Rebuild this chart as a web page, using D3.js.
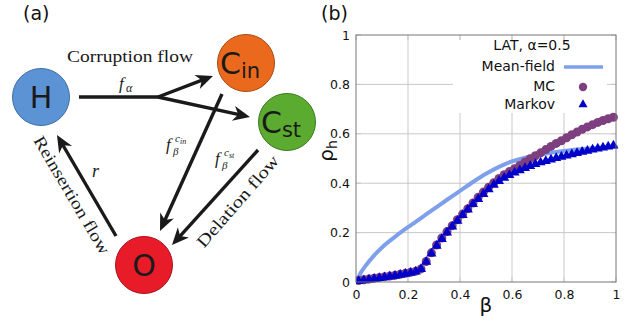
<!DOCTYPE html>
<html>
<head>
<meta charset="utf-8">
<script src="https://cdn.jsdelivr.net/npm/d3@7"></script>
<style>
  body { margin: 0; background: #fff; }
  svg { display: block; }
</style>
</head>
<body>
<svg id="fig" width="640" height="324"></svg>
<script>
// ---- panel (b) data ----
const betaMF = [0.01, 0.02, 0.04, 0.07, 0.1, 0.15, 0.2, 0.25, 0.3, 0.35, 0.4, 0.45, 0.5, 0.55, 0.6, 0.65, 0.7, 0.75, 0.8, 0.85, 0.9, 0.95, 1.0];
const rhoMF = [0.02, 0.04, 0.07, 0.108, 0.14, 0.183, 0.222, 0.259, 0.296, 0.333, 0.369, 0.405, 0.438, 0.466, 0.488, 0.503, 0.514, 0.523, 0.53, 0.536, 0.541, 0.545, 0.548];

const betaPts = [0.01, 0.03, 0.05, 0.07, 0.09, 0.11, 0.13, 0.15, 0.17, 0.19,
  0.21, 0.23, 0.25, 0.27, 0.29, 0.31, 0.33, 0.35, 0.37, 0.39,
  0.41, 0.43, 0.45, 0.47, 0.49, 0.51, 0.53, 0.55, 0.57, 0.59,
  0.61, 0.63, 0.65, 0.67, 0.69, 0.71, 0.73, 0.75, 0.77, 0.79,
  0.81, 0.83, 0.85, 0.87, 0.89, 0.91, 0.93, 0.95, 0.97, 0.99];
const rhoMC = [0.006, 0.009, 0.012, 0.015, 0.018, 0.021, 0.024, 0.027, 0.031, 0.035,
  0.039, 0.044, 0.053, 0.083, 0.118, 0.150, 0.178, 0.204, 0.228, 0.252,
  0.275, 0.297, 0.320, 0.343, 0.364, 0.384, 0.402, 0.419, 0.434, 0.447,
  0.459, 0.472, 0.486, 0.499, 0.511, 0.523, 0.536, 0.549, 0.561, 0.572,
  0.584, 0.596, 0.607, 0.618, 0.628, 0.637, 0.646, 0.654, 0.661, 0.667];
const rhoMarkov = [0.004, 0.007, 0.010, 0.013, 0.016, 0.019, 0.022, 0.025, 0.029, 0.033,
  0.037, 0.042, 0.052, 0.082, 0.115, 0.146, 0.174, 0.200, 0.224, 0.248,
  0.271, 0.293, 0.315, 0.336, 0.356, 0.375, 0.393, 0.409, 0.422, 0.433,
  0.443, 0.452, 0.461, 0.469, 0.477, 0.484, 0.490, 0.496, 0.502, 0.507,
  0.512, 0.517, 0.522, 0.527, 0.531, 0.536, 0.540, 0.544, 0.548, 0.552];

const tickVals = [0, 0.2, 0.4, 0.6, 0.8, 1];
const legendLabels = ["Mean-field", "MC", "Markov"];

// ---- panel (a) data ----
const nodeNames = [
  { id: "H", main: "H", sub: "" },
  { id: "Cin", main: "C", sub: "in" },
  { id: "Cst", main: "C", sub: "st" },
  { id: "O", main: "O", sub: "" }
];
const flowLabels = ["Corruption flow", "Reinsertion flow", "Delation flow"];

const svg = d3.select("#fig");

// ================= panel (a) =================
const layout = {
  H:   { x: 41,  y: 97,  fill: "#5b93d5", stroke: "#3f6ea8" },
  Cin: { x: 246, y: 63,  fill: "#ea691d", stroke: "#a64b12" },
  Cst: { x: 287, y: 122, fill: "#5aab2f", stroke: "#3d7a1f" },
  O:   { x: 144, y: 265, fill: "#e81b29", stroke: "#ad111c" }
};
const R = 28.5;

const pa = svg.append("g").attr("id", "panelA");

pa.append("text").attr("x", 23).attr("y", 20)
  .attr("font-family", "DejaVu Sans").attr("font-size", 19).attr("fill", "#111")
  .text("(a)");

// arrows: [x1,y1,x2,y2,head]
const arrows = [
  [79, 97, 158, 97, false],
  [158, 97, 213, 76, true],
  [158, 97, 250, 117, true],
  [222, 94, 160, 231, true],
  [258, 150, 172, 245, true],
  [116, 236, 57, 135, true]
];

const arrowG = pa.append("g");
arrows.forEach(a => {
  let [x1, y1, x2, y2, head] = a;
  let ang = Math.atan2(y2 - y1, x2 - x1);
  let back = head ? 11 : 0;
  arrowG.append("line")
    .attr("x1", x1).attr("y1", y1)
    .attr("x2", x2 - back * Math.cos(ang)).attr("y2", y2 - back * Math.sin(ang))
    .attr("stroke", "#1a1a1a").attr("stroke-width", 3.4);
  if (head) {
    arrowG.append("path")
      .attr("d", "M0,0 L-17,-7.5 L-12,0 L-17,7.5 Z")
      .attr("fill", "#1a1a1a")
      .attr("transform", `translate(${x2},${y2}) rotate(${ang * 180 / Math.PI})`);
  }
});

const nodeG = pa.selectAll("g.node").data(nodeNames).enter().append("g")
  .attr("class", "node")
  .attr("transform", d => `translate(${layout[d.id].x},${layout[d.id].y})`);
nodeG.append("circle").attr("r", R)
  .attr("fill", d => layout[d.id].fill)
  .attr("stroke", d => layout[d.id].stroke).attr("stroke-width", 1);
nodeG.append("text")
  .attr("x", d => d.sub ? -6 : 0).attr("y", 11)
  .attr("text-anchor", "middle")
  .attr("font-family", "DejaVu Sans").attr("font-size", 30).attr("fill", "#1a1a1a")
  .text(d => d.main)
  .append("tspan").attr("font-size", 21).attr("dy", 4)
  .text(d => d.sub);

const serif = "Liberation Serif";
pa.append("text").attr("x", 130).attr("y", 62)
  .attr("text-anchor", "middle").attr("font-family", serif).attr("font-size", 17)
  .attr("textLength", 126).attr("lengthAdjust", "spacingAndGlyphs")
  .attr("fill", "#1a1a1a").text(flowLabels[0]);

pa.append("text").attr("transform", "translate(67,198) rotate(59.5)")
  .attr("text-anchor", "middle").attr("font-family", serif).attr("font-size", 17)
  .attr("textLength", 134).attr("lengthAdjust", "spacingAndGlyphs")
  .attr("fill", "#1a1a1a").text(flowLabels[1]);

pa.append("text").attr("transform", "translate(242,205) rotate(-49)")
  .attr("text-anchor", "middle").attr("font-family", serif).attr("font-size", 17)
  .attr("textLength", 116).attr("lengthAdjust", "spacingAndGlyphs")
  .attr("fill", "#1a1a1a").text(flowLabels[2]);

// math labels
function mathText(x, y, size, str, italic) {
  return pa.append("text").attr("x", x).attr("y", y)
    .attr("font-family", serif).attr("font-size", size)
    .attr("font-style", italic ? "italic" : "normal")
    .attr("fill", "#1a1a1a").text(str);
}
mathText(119, 89, 17, "f", true);
mathText(126, 92, 12, "α", true);

mathText(166, 150, 17, "f", true);
mathText(173, 155, 11, "β", true);
mathText(175, 142, 11, "c", true);
mathText(180, 144, 8, "in", true);

mathText(215, 164, 17, "f", true);
mathText(222, 169, 11, "β", true);
mathText(224, 156, 11, "c", true);
mathText(229, 158, 8, "st", true);

mathText(92, 177, 18, "r", true);

// ================= panel (b) =================
const m = { left: 356, right: 616, top: 35, bottom: 282 };
const x = d3.scaleLinear().domain([0, 1]).range([m.left, m.right]);
const y = d3.scaleLinear().domain([0, 1]).range([m.bottom, m.top]);

const pb = svg.append("g").attr("id", "panelB");

pb.append("text").attr("x", 321).attr("y", 20)
  .attr("font-family", "DejaVu Sans").attr("font-size", 19).attr("fill", "#111")
  .text("(b)");

const gridColor = "#c9c9c9";
// grid
pb.append("g").selectAll("line").data(tickVals.slice(1, -1)).enter().append("line")
  .attr("x1", d => x(d)).attr("x2", d => x(d))
  .attr("y1", m.top).attr("y2", m.bottom)
  .attr("stroke", gridColor).attr("stroke-width", 1);
pb.append("g").selectAll("line").data(tickVals.slice(1, -1)).enter().append("line")
  .attr("y1", d => y(d)).attr("y2", d => y(d))
  .attr("x1", m.left).attr("x2", m.right)
  .attr("stroke", gridColor).attr("stroke-width", 1);

// legend background
pb.append("rect").attr("x", 453).attr("y", 40).attr("width", 154).attr("height", 73)
  .attr("fill", "#fff");

// mirrored tick marks (inward)
const tickLen = 5;
const tk = pb.append("g").attr("stroke", gridColor).attr("stroke-width", 1);
tickVals.forEach(v => {
  tk.append("line").attr("x1", x(v)).attr("x2", x(v)).attr("y1", m.top).attr("y2", m.top + tickLen);
  tk.append("line").attr("x1", x(v)).attr("x2", x(v)).attr("y1", m.bottom).attr("y2", m.bottom - tickLen);
  tk.append("line").attr("y1", y(v)).attr("y2", y(v)).attr("x1", m.left).attr("x2", m.left + tickLen);
  tk.append("line").attr("y1", y(v)).attr("y2", y(v)).attr("x1", m.right).attr("x2", m.right - tickLen);
});

// axes (labels only)
const fmt = d3.format("~g");
const xAxis = pb.append("g").attr("transform", `translate(0,${m.bottom})`)
  .call(d3.axisBottom(x).tickValues(tickVals).tickFormat(fmt).tickSize(0).tickPadding(5));
const yAxis = pb.append("g").attr("transform", `translate(${m.left},0)`)
  .call(d3.axisLeft(y).tickValues(tickVals).tickFormat(fmt).tickSize(0).tickPadding(6));
[xAxis, yAxis].forEach(g => {
  g.select(".domain").remove();
  g.selectAll("text").attr("font-family", "DejaVu Sans").attr("font-size", 12.5).attr("fill", "#111");
});
xAxis.selectAll("text").attr("dy", "0.95em");

// axis titles
pb.append("text").attr("x", 486).attr("y", 312).attr("text-anchor", "middle")
  .attr("font-family", "DejaVu Sans").attr("font-size", 20).attr("fill", "#111").text("β");
const yl = pb.append("text").attr("transform", "translate(333,151) rotate(-90)")
  .attr("text-anchor", "middle")
  .attr("font-family", "DejaVu Sans").attr("font-size", 20).attr("fill", "#111");
yl.append("tspan").text("ρ");
yl.append("tspan").attr("font-size", 14).attr("dy", 4).text("h");

// data
const clip = pb.append("clipPath").attr("id", "plotclip").append("rect")
  .attr("x", m.left).attr("y", m.top - 5).attr("width", m.right - m.left + 5).attr("height", m.bottom - m.top + 10);

const mfColor = "#7ea0ec", mcColor = "#7d3f80", mkColor = "#0000c8";
const mfData = betaMF.map((b, i) => [b, rhoMF[i]]);
pb.append("path").datum(mfData)
  .attr("d", d3.line().x(d => x(d[0])).y(d => y(d[1])).curve(d3.curveMonotoneX))
  .attr("fill", "none").attr("stroke", mfColor).attr("stroke-width", 4)
  .attr("stroke-linecap", "round");

pb.append("g").attr("clip-path", "url(#plotclip)")
  .selectAll("circle").data(betaPts).enter().append("circle")
  .attr("cx", d => x(d)).attr("cy", (d, i) => y(rhoMC[i])).attr("r", 4.5)
  .attr("fill", mcColor);

const tri = d3.symbol().type(d3.symbolTriangle).size(44);
pb.append("g").attr("clip-path", "url(#plotclip)")
  .selectAll("path").data(betaPts).enter().append("path")
  .attr("d", tri)
  .attr("transform", (d, i) => `translate(${x(d)},${y(rhoMarkov[i])})`)
  .attr("fill", mkColor);

// frame
pb.append("rect").attr("x", m.left).attr("y", m.top)
  .attr("width", m.right - m.left).attr("height", m.bottom - m.top)
  .attr("fill", "none").attr("stroke", "#777").attr("stroke-width", 1);

// legend
const lg = pb.append("g").attr("font-family", "DejaVu Sans").attr("font-size", 14).attr("fill", "#111");
lg.append("text").attr("x", 532).attr("y", 50).attr("text-anchor", "middle").text("LAT, α=0.5");
const rowsY = [71, 90.5, 108.5];
lg.selectAll("text.lab").data(legendLabels).enter().append("text")
  .attr("class", "lab")
  .attr("x", 555).attr("y", (d, i) => rowsY[i]).attr("text-anchor", "end").text(d => d);
lg.append("line").attr("x1", 564).attr("x2", 603).attr("y1", 67).attr("y2", 67)
  .attr("stroke", mfColor).attr("stroke-width", 3.5);
lg.append("circle").attr("cx", 583).attr("cy", 87).attr("r", 4.2).attr("fill", mcColor);
lg.append("path").attr("d", d3.symbol().type(d3.symbolTriangle).size(36)).attr("transform", "translate(583,104.5)").attr("fill", mkColor);
</script>
</body>
</html>
